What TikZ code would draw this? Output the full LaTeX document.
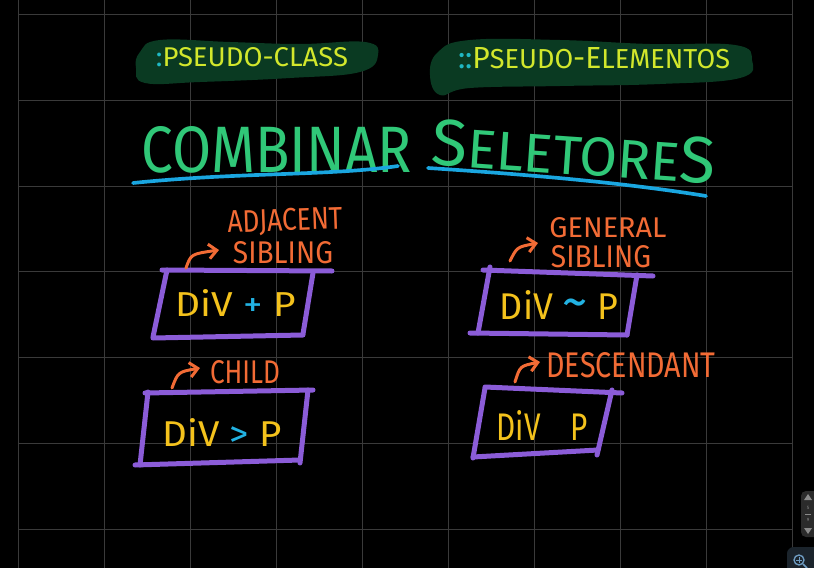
\documentclass[tikz,border=0pt]{standalone}
\usepackage{fontspec}
\setmainfont{Fira Sans}
\usepackage{graphicx}
\usepackage{xcolor}
\usetikzlibrary{arrows.meta}
\definecolor{bgInk}{HTML}{000000}
\definecolor{gridL}{HTML}{3A3A3A}
\definecolor{hlGreen}{HTML}{0A3A22}
\definecolor{limeT}{HTML}{D2E72C}
\definecolor{cyanT}{HTML}{1FB8C4}
\definecolor{ttlGreen}{HTML}{30C878}
\definecolor{ulBlue}{HTML}{1AA6E0}
\definecolor{orgT}{HTML}{F26B35}
\definecolor{boxP}{HTML}{8B5CD8}
\definecolor{divY}{HTML}{F4C21C}
\definecolor{opC}{HTML}{22B2E2}
\definecolor{wdgt}{HTML}{2B2B2B}
\definecolor{wdgtI}{HTML}{8A8A8A}
\definecolor{zoomBg}{HTML}{1B242C}
\definecolor{zoomI}{HTML}{6E9CC2}
\newlength\pxu
\setlength\pxu{0.3mm}
\newcommand{\fitto}[3]{\resizebox{#1\pxu}{#2\pxu}{#3}}
\tikzset{
  hand/.style={inner sep=0pt, outer sep=0pt},
  pseudolab/.style={hand, text=limeT},
  titlelab/.style={hand, text=ttlGreen},
  kindlab/.style={hand, text=orgT},
  seltxt/.style={hand, text=divY},
  selbox/.style={draw=boxP, line width=1.5mm, line cap=round},
  underl/.style={draw=ulBlue, line width=1.1mm, line cap=round},
  pointer/.style={draw=orgT, line width=0.9mm, line cap=round,
                  -{Straight Barb[length=2.4mm, width=4.4mm]}},
}

\begin{document}
\begin{tikzpicture}[x=0.3mm, y=-0.3mm]
  \fill[bgInk] (0,0) rectangle (814,568);
  \useasboundingbox (0,0) rectangle (814,568);
  \clip (0,0) rectangle (814,568);
  % grid
  \foreach \gx in {18,104,...,792}
    \draw[gridL, line width=0.3mm] (\gx,0) -- (\gx,568);
  \foreach \gy in {14,100,186,271,357,443,529}
    \draw[gridL, line width=0.3mm] (18,\gy) -- (792,\gy);

  % highlighter marks
  \fill[hlGreen] plot[smooth cycle, tension=0.7] coordinates
    {(140,52) (160,40) (230,42) (300,44) (365,42) (378,55) (360,72)
     (290,78) (200,82) (145,83) (136,68)};
  \fill[hlGreen] plot[smooth cycle, tension=0.7] coordinates
    {(438,52) (470,40) (560,40) (650,44) (735,45) (752,60) (740,78)
     (660,84) (560,86) (470,88) (440,95) (430,75)};
  \node[pseudolab] (pcls) at (252,57)
    {\fitto{192}{19}{{\color{cyanT}:}PSEUDO-CLASS}};
  \node[pseudolab] (pelm) at (594,58)
    {\fitto{272}{21}{{\color{cyanT}::}P{\small SEUDO}-E{\small LEMENTOS}}};

  % title
  \node[titlelab] (ttlA) at (277,150) {\fitto{270}{46}{COMBINAR}};
  \node[titlelab, rotate=-4] (ttlB) at (574,152)
    {\fitto{284}{46}{{\large S}ELETORE{\large S}}};
  \draw[underl] (133,183) .. controls (240,172) and (330,176) .. (398,166);
  \draw[underl] (428,168) .. controls (520,174) and (620,182) .. (706,196);

  % adjacent sibling
  \node[kindlab, rotate=2] (adjA) at (285,222) {\fitto{115}{22}{ADJACENT}};
  \node[kindlab] (adjB) at (283,253) {\fitto{100}{22}{SIBLING}};
  \node[seltxt] (adjTxt) at (236,303)
    {\fitto{120}{27}{DiV {\color{opC}+} P}};
  \draw[selbox] (162,270) -- (332,271);
  \draw[selbox] (167,270) -- (153,337);
  \draw[selbox] (153,338) -- (303,335);
  \draw[selbox] (313,273) -- (303,334);
  \coordinate (adjTail) at (186,268);
  \coordinate (adjHead) at (219,250);
  \draw[pointer] (adjTail) .. controls (191,254) .. (adjHead);

  % general sibling
  \node[kindlab] (genA) at (608,228) {\fitto{117}{20}{GENERAL}};
  \node[kindlab] (genB) at (601,257) {\fitto{100}{22}{SIBLING}};
  \node[seltxt] (genTxt) at (559,305)
    {\fitto{118}{29}{DiV {\color{opC}\Large\char"7E} P}};
  \draw[selbox] (483,270) -- (653,276);
  \draw[selbox] (490,267) -- (478,333);
  \draw[selbox] (470,333) -- (627,335);
  \draw[selbox] (637,275) -- (627,335);
  \coordinate (genTail) at (510,261);
  \coordinate (genHead) at (538,243);
  \draw[pointer] (genTail) .. controls (517,247) .. (genHead);

  % child
  \node[kindlab] (chdA) at (245,372) {\fitto{70}{23}{CHILD}};
  \node[seltxt] (chdTxt) at (222,432)
    {\fitto{119}{28}{DiV {\color{opC}>} P}};
  \draw[selbox] (145,393) -- (313,390);
  \draw[selbox] (148,392) -- (140,465);
  \draw[selbox] (135,465) -- (300,460);
  \draw[selbox] (308,390) -- (300,463);
  \coordinate (chdTail) at (172,388);
  \coordinate (chdHead) at (200,368);
  \draw[pointer] (chdTail) .. controls (178,372) .. (chdHead);

  % descendant
  \node[kindlab] (dscA) at (631,365) {\fitto{169}{25}{DESCENDANT}};
  \node[seltxt] (dscTxt) at (542,425) {\fitto{91}{30}{DiV\quad P}};
  \draw[selbox] (485,387) -- (622,393);
  \draw[selbox] (485,388) -- (473,458);
  \draw[selbox] (473,457) -- (598,450);
  \draw[selbox] (612,390) -- (597,455);
  \coordinate (dscTail) at (515,382);
  \coordinate (dscHead) at (540,362);
  \draw[pointer] (dscTail) .. controls (520,366) .. (dscHead);

  % page widget
  \fill[wdgt, rounded corners=1.5mm] (801,491) rectangle (826,537);
  \fill[wdgtI] (804,500) -- (812,500) -- (808,494) -- cycle;
  \node[text=wdgtI, font=\fontsize{4}{4}\selectfont] (pgCur) at (808,508) {5};
  \draw[wdgtI, line width=0.2mm] (805,514) -- (811,514);
  \node[text=wdgtI, font=\fontsize{4}{4}\selectfont] (pgAll) at (808,520) {9};
  \fill[wdgtI] (804,528) -- (812,528) -- (808,534) -- cycle;
  \fill[zoomBg, rounded corners=2mm] (787,547) rectangle (830,580);
  \draw[zoomI, line width=0.4mm] (799,560) circle[radius=5];
  \draw[zoomI, line width=0.3mm] (796,560) -- (802,560) (799,557) -- (799,563);
  \draw[zoomI, line width=0.5mm] (803,564) -- (807,568);
\end{tikzpicture}
\end{document}
